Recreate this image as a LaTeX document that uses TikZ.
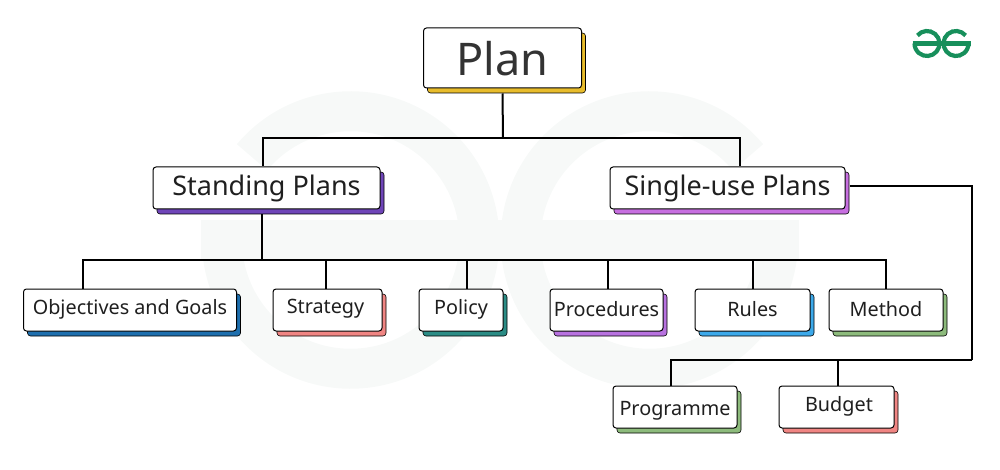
\documentclass[tikz,border=0pt]{standalone}
\usepackage{fontspec}
\setmainfont{Noto Sans}
\usepackage{tikz}
\usetikzlibrary{shadows, positioning}
\definecolor{geekgreen}{HTML}{178F5B}
\definecolor{watermark}{HTML}{F7F9F8}
\definecolor{inkgray}{HTML}{333333}
\definecolor{planyellow}{HTML}{E8BC2C}
\definecolor{standviolet}{HTML}{6F45B8}
\definecolor{singleviolet}{HTML}{C76FE0}
\definecolor{objblue}{HTML}{1E6FAE}
\definecolor{salmon}{HTML}{F08583}
\definecolor{tealish}{HTML}{2B8C85}
\definecolor{procviolet}{HTML}{B872E0}
\definecolor{skyblue}{HTML}{3CA9EA}
\definecolor{sage}{HTML}{8DBB7C}
\newcommand{\nudge}[2]{\raisebox{#1}[0pt][0pt]{#2}}
\tikzset{%
  block/.style={rectangle, draw=black, line width=1pt, fill=white, rounded corners=3pt, text=black!88, text centered, inner sep=0pt,
    copy shadow={shadow xshift=4pt, shadow yshift=-5pt, fill=#1, draw=black, line width=0.6pt}},
  bigblock/.style={block=#1, text=inkgray, font=\fontsize{45}{48}\selectfont, minimum width=158pt, minimum height=60pt},
  midblock/.style={block=#1, font=\fontsize{27}{30}\selectfont, minimum height=42pt},
  smallblock/.style={block=#1, font=\fontsize{19.8}{24}\selectfont, minimum height=42pt},
  line/.style={draw=black, line width=2pt},
  logo/.pic={
    \draw (-29,0) -- (29,0);
    \draw (-14.5,0) ++(-140:12.5) arc (-140:180:12.5);
    \draw (14.5,0) ++(-40:12.5) arc (-40:-360:12.5);
  }}
\begin{document}
\begin{tikzpicture}[x=1pt, y=-1pt]
  \useasboundingbox (0,0) rectangle (1000,470);
  % faint mark behind the chart, small one at the corner
  \pic [draw=watermark, line width=40pt, scale=10.3] at (500,240) {logo};
  \pic [draw=geekgreen, line width=4.2pt] at (941.5,43.5) {logo};

  \node [bigblock=planyellow] (plan) at (502.5,58) {\nudge{-18pt}{Plan}};
  \node [midblock=standviolet, minimum width=227pt] (standing) at (266.5,188) {\nudge{-8pt}{Standing Plans}};
  \node [midblock=singleviolet, minimum width=235pt] (single) at (727.5,188) {\nudge{-8pt}{Single-use Plans}};

  \foreach \name/\cx/\boxw/\col/\txt in {
      objectives/130/213/objblue/\nudge{-4pt}{Objectives and Goals},
      strategy/327.5/109/salmon/\nudge{-3pt}{Strategy\hspace*{4pt}},
      policy/461/84/tealish/\nudge{-4pt}{Policy},
      procedures/606.5/113/procviolet/\nudge{-6pt}{Procedures},
      rules/752.5/115/skyblue/\nudge{-6pt}{Rules},
      method/886/114/sage/\nudge{-6pt}{Method}} {
    \node [smallblock=\col, minimum width=\boxw pt] (\name) at (\cx,310) {\txt};
  }
  \node [smallblock=sage, minimum width=124pt] (programme) at (675,407) {\nudge{-8pt}{Programme}};
  \node [smallblock=salmon, minimum width=115pt] (budget) at (836.5,407) {\nudge{-4pt}{\hspace*{5pt}Budget}};

  \coordinate (planhub) at (503,138);
  \coordinate (standhub) at (262,260);
  \coordinate (singlehub) at (972,360);

  \draw [line] ([yshift=-5pt]plan.south) -- (planhub);
  \draw [line] (planhub) -| ([xshift=-3.5pt]standing.north);
  \draw [line] (planhub) -| ([xshift=12.5pt]single.north);
  \draw [line] ([xshift=-4.5pt, yshift=-5pt]standing.south) -- (standhub);
  \foreach \name/\dx in {objectives/-47, strategy/-1.5, policy/6, procedures/1.5, rules/0.5, method/0} {
    \draw [line] (standhub) -| ([xshift=\dx pt]\name.north);
  }
  \draw [line] ([xshift=4pt, yshift=2pt]single.east) -| (singlehub);
  \draw [line] (singlehub) -| ([xshift=-4pt]programme.north);
  \draw [line] (singlehub) -| ([xshift=1.5pt]budget.north);
\end{tikzpicture}
\end{document}
